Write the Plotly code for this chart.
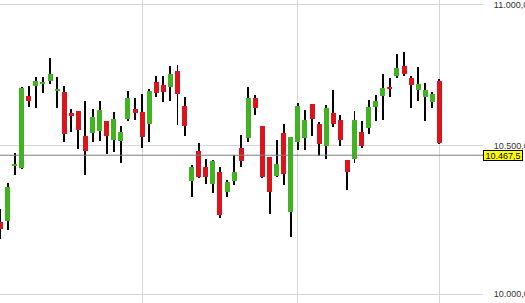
import math
import numpy as np
import plotly.graph_objects as go

# ---- data (daily OHLC) ----
opens = [10241.3, 10244.7, 10430.7, 10424.9, 10673.8, 10709.1, 10717.3, 10726.8, 10692.5, 10687.9,
         10615.4, 10621.3, 10534.2, 10545.7, 10552.7, 10586.5, 10521.4, 10517.9, 10592.4, 10628.3,
         10617.8, 10577.1, 10723.3, 10712.7, 10704.5, 10762.2, 10638.7, 10380.4, 10482.1, 10428.4,
         10369.2, 10410.2, 10341.8, 10379.4, 10492.5, 10527.3, 10666.7, 10569.1, 10461.5, 10396.5,
         10544.7, 10275.0, 10512.3, 10528.3, 10645.7, 10577.1, 10500.5, 10614.3, 10590.0, 10451.3,
         10453.7, 10548.2, 10562.1, 10635.2, 10673.8, 10704.5, 10745.6, 10781.0, 10737.4, 10696.0,
         10671.3, 10653.7, 10726.8]
highs = [10283.1, 10373.6, 10476.3, 10704.5, 10709.1, 10742.0, 10739.9, 10807.1, 10739.9, 10709.1,
         10627.2, 10622.0, 10656.1, 10627.2, 10656.1, 10587.0, 10616.8, 10568.0, 10691.4, 10667.7,
         10680.8, 10697.5, 10744.5, 10744.5, 10779.9, 10783.4, 10671.3, 10433.1, 10508.8, 10454.7,
         10451.3, 10427.3, 10382.8, 10468.4, 10537.7, 10705.6, 10677.3, 10570.0, 10462.0, 10520.3,
         10575.0, 10531.5, 10650.2, 10624.8, 10646.5, 10583.0, 10641.1, 10695.0, 10606.3, 10452.0,
         10621.3, 10586.5, 10659.6, 10677.3, 10751.6, 10736.4, 10822.3, 10829.4, 10744.5, 10776.4,
         10719.7, 10689.0, 10735.0]
lows = [10182.0, 10213.4, 10401.0, 10420.5, 10636.3, 10630.7, 10683.3, 10715.1, 10632.8, 10513.4,
        10549.2, 10490.6, 10399.9, 10514.4, 10517.9, 10470.8, 10479.7, 10442.0, 10586.5, 10590.0,
        10491.3, 10514.4, 10671.3, 10653.7, 10657.2, 10572.5, 10535.3, 10323.6, 10390.7, 10369.2,
        10339.4, 10252.8, 10326.0, 10365.7, 10428.4, 10514.4, 10607.4, 10390.7, 10266.2, 10392.1,
        10365.7, 10188.8, 10485.5, 10485.5, 10535.3, 10466.0, 10454.7, 10566.6, 10500.5, 10349.6,
        10442.0, 10493.5, 10541.2, 10586.5, 10590.0, 10671.3, 10738.5, 10745.6, 10632.8, 10657.2,
        10587.5, 10632.8, 10507.4]
closes = [10215.7, 10359.9, 10437.6, 10703.1, 10656.1, 10726.8, 10724.3, 10752.6, 10698.5, 10542.3,
          10603.9, 10555.1, 10483.1, 10600.4, 10624.8, 10535.3, 10593.4, 10547.1, 10666.7, 10615.4,
          10531.8, 10691.4, 10685.4, 10689.0, 10751.6, 10679.8, 10570.1, 10428.4, 10394.1, 10394.1,
          10447.9, 10264.9, 10376.0, 10410.2, 10448.9, 10666.7, 10632.8, 10394.1, 10342.8, 10437.6,
          10404.4, 10530.8, 10638.7, 10590.0, 10593.4, 10507.4, 10630.7, 10577.1, 10521.4, 10411.2,
          10590.0, 10499.4, 10635.2, 10656.1, 10701.0, 10701.0, 10772.8, 10752.6, 10713.7, 10717.3,
          10695.0, 10680.8, 10510.9]
day_index = list(range(len(opens)))
month_starts = [20, 42, 62]
tick_values = [10000, 10500, 11000]
tick_labels = ["10.000,0", "10.500,0", "11.000,0"]
last_price = 10467.5
last_price_label = "10.467,5"

GREEN = "#3fb420"
RED = "#dc141c"
GRID = "#d6d6d6"
FONT = "Arial, Liberation Sans"

o = np.array(opens); c = np.array(closes); h = np.array(highs); l = np.array(lows)
body_base = np.minimum(o, c)
body_h = np.abs(c - o)
body_col = [GREEN if cc >= oo else RED for oo, cc in zip(opens, closes)]

fig = go.Figure()
fig.add_trace(go.Bar(x=day_index, y=h - l, base=l, width=0.14,
                     marker=dict(color="#000000", line=dict(width=0)),
                     hoverinfo="skip", showlegend=False))
fig.add_trace(go.Bar(x=day_index, y=body_h, base=body_base, width=0.71,
                     marker=dict(color=body_col, line=dict(width=0)),
                     hoverinfo="skip", showlegend=False))

fig.add_shape(type="line", xref="paper", x0=0, x1=1, yref="y", y0=last_price, y1=last_price,
              line=dict(color="#7f7f7f", width=1))
fig.add_annotation(xref="paper", x=1, xanchor="left", xshift=0,
                   yref="y", y=math.log10(last_price), yanchor="middle",
                   text=last_price_label, showarrow=False,
                   width=38, height=9, borderpad=0, borderwidth=1,
                   bordercolor="#000000", bgcolor="#ffff00", align="center",
                   font=dict(family=FONT, size=9, color="#000000"))

fig.update_layout(
    width=525, height=303,
    margin=dict(l=0, r=42, t=0, b=0, autoexpand=False),
    paper_bgcolor="white", plot_bgcolor="white",
    barmode="overlay", bargap=0,
    showlegend=False,
    font=dict(family=FONT, size=9, color="#333333"),
    xaxis=dict(range=[-0.07, 68.15], tickvals=month_starts, showticklabels=False,
               showgrid=True, gridcolor=GRID, gridwidth=1, zeroline=False, showline=False,
               ticks="", automargin=False),
    yaxis=dict(type="log", range=[3.998713, 4.042036], side="right",
               tickvals=tick_values, ticktext=tick_labels,
               showgrid=True, gridcolor=GRID, gridwidth=1, zeroline=False, showline=False,
               ticks="outside", ticklen=8, tickcolor="rgba(0,0,0,0)",
               ticklabeloverflow="allow", automargin=False,
               tickfont=dict(family=FONT, size=9, color="#333333")),
)

fig.write_html("out.html")
